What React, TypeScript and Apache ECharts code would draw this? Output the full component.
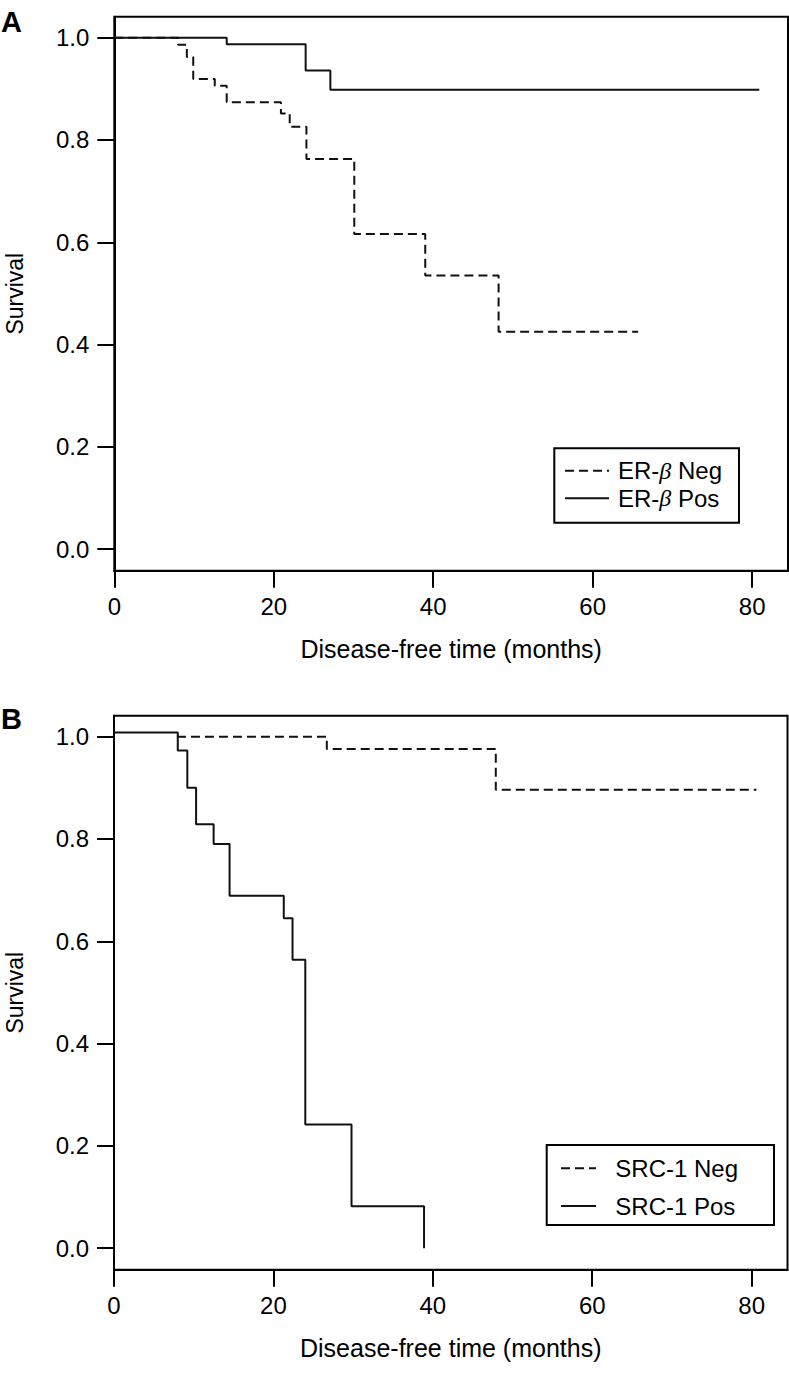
import React, { useEffect, useRef } from "react";
import * as echarts from "echarts";

// ---------- data ----------
const X_TICKS = [0, 20, 40, 60, 80];
const Y_TICKS = [0, 0.2, 0.4, 0.6, 0.8, 1.0];

const erbNegTime = [0, 8.0, 9.1, 9.9, 12.6, 14.1, 20.9, 22.0, 24.1, 30.1, 39.0, 48.2, 65.7];
const erbNegSurv = [1.0, 0.986, 0.962, 0.919, 0.906, 0.874, 0.852, 0.826, 0.763, 0.616, 0.535, 0.425, 0.425];

const erbPosTime = [0, 14.1, 24.0, 27.1, 80.9];
const erbPosSurv = [1.0, 0.987, 0.936, 0.898, 0.898];

const srcNegTime = [7.9, 26.7, 47.9, 80.6];
const srcNegSurv = [1.0, 0.976, 0.896, 0.896];

const srcPosTime = [0, 8.0, 9.2, 10.3, 12.5, 14.5, 21.3, 22.4, 24.0, 29.8, 38.9];
const srcPosSurv = [1.008, 0.973, 0.9, 0.829, 0.79, 0.689, 0.645, 0.564, 0.242, 0.082, 0.0];

const NAMES = ["ER-β Neg", "ER-β Pos", "SRC-1 Neg", "SRC-1 Pos"];

const FONT = '"Liberation Sans", Arial, Helvetica, sans-serif';

const pairs = (t: number[], s: number[]) => t.map((v, i) => [v, s[i]]);

function xAxisFor(gridIndex: number) {
  return {
    type: "value",
    gridIndex,
    min: 0,
    max: 84.5,
    name: "Disease-free time (months)",
    nameLocation: "middle",
    nameGap: 66,
    nameTextStyle: { fontFamily: FONT, fontSize: 25, color: "#000" },
    axisLine: { show: true, onZero: false, lineStyle: { color: "#000", width: 2 } },
    axisTick: { show: true, inside: false, length: 17, customValues: X_TICKS, lineStyle: { color: "#000", width: 2 } },
    axisLabel: { show: true, customValues: X_TICKS, margin: 24, fontFamily: FONT, fontSize: 24, color: "#000" },
    splitLine: { show: false },
  };
}

function yAxisFor(gridIndex: number) {
  return {
    type: "value",
    gridIndex,
    min: -0.042,
    max: 1.041,
    name: "Survival",
    nameLocation: "middle",
    nameGap: 88,
    nameTextStyle: { fontFamily: FONT, fontSize: 23, color: "#000" },
    axisLine: { show: true, onZero: false, lineStyle: { color: "#000", width: 2 } },
    axisTick: { show: true, inside: false, length: 17, customValues: Y_TICKS, lineStyle: { color: "#000", width: 2 } },
    axisLabel: {
      show: true,
      customValues: Y_TICKS,
      margin: 25,
      fontFamily: FONT,
      fontSize: 24,
      color: "#000",
      formatter: (v: number) => v.toFixed(1),
    },
    splitLine: { show: false },
  };
}

const legendRich = {
  t: { fontFamily: FONT, fontSize: 24, color: "#000" },
  b: { fontFamily: '"Liberation Serif", "DejaVu Serif", serif', fontStyle: "italic", fontSize: 24, color: "#000" },
};

const legendFormatter = (name: string) => {
  const i = name.indexOf("β");
  if (i < 0) return `{t|${name}}`;
  return `{t|${name.slice(0, i)}}{b|β}{t|${name.slice(i + 1)}}`;
};

const hiddenSymbol = { color: "rgba(0,0,0,0)", borderWidth: 0, opacity: 0 };

export default function App() {
  const ref = useRef<HTMLDivElement>(null);
  useEffect(() => {
    if (!ref.current) return;
    const chart = echarts.init(ref.current, undefined, { renderer: "svg" });
    const dashed = [9, 5];
    chart.setOption({
      animation: false,
      backgroundColor: "#fff",
      grid: [
        { left: 114.3, top: 16.7, width: 673.7, height: 554, outerBoundsMode: "none", containLabel: false, show: true, borderColor: "#000", borderWidth: 2, backgroundColor: "transparent" },
        { left: 114, top: 715.7, width: 673.5, height: 554, outerBoundsMode: "none", containLabel: false, show: true, borderColor: "#000", borderWidth: 2, backgroundColor: "transparent" },
      ],
      xAxis: [xAxisFor(0), xAxisFor(1)],
      yAxis: [yAxisFor(0), yAxisFor(1)],
      legend: [
        {
          data: [NAMES[0], NAMES[1]],
          orient: "vertical",
          left: 554.3,
          top: 448.3,
          padding: [8.6, 17, 10.6, 9.7],
          itemWidth: 44,
          itemHeight: 14,
          itemGap: 0,
          selectedMode: false,
          borderColor: "#000",
          borderWidth: 2,
          itemStyle: hiddenSymbol,
          formatter: legendFormatter,
          textStyle: { fontFamily: FONT, fontSize: 24, color: "#000", lineHeight: 27.6, padding: [0, 0, 0, 4], rich: legendRich },
        },
        {
          data: [NAMES[2], NAMES[3]],
          orient: "vertical",
          left: 546.7,
          top: 1145,
          padding: [4.5, 36, 0, 13.3],
          itemWidth: 35,
          itemHeight: 14,
          itemGap: 0,
          selectedMode: false,
          borderColor: "#000",
          borderWidth: 2,
          itemStyle: hiddenSymbol,
          formatter: legendFormatter,
          textStyle: { fontFamily: FONT, fontSize: 24, color: "#000", lineHeight: 37.7, padding: [0, 0, 0, 14.3], rich: legendRich },
        },
      ],
      series: [
        {
          name: NAMES[0], type: "line", xAxisIndex: 0, yAxisIndex: 0, step: "end", symbol: "none",
          data: pairs(erbNegTime, erbNegSurv),
          lineStyle: { color: "#111", width: 2, type: dashed },
          itemStyle: { color: "#111" },
        },
        {
          name: NAMES[1], type: "line", xAxisIndex: 0, yAxisIndex: 0, step: "end", symbol: "none",
          data: pairs(erbPosTime, erbPosSurv),
          lineStyle: { color: "#111", width: 2, type: "solid" },
          itemStyle: { color: "#111" },
        },
        {
          name: NAMES[2], type: "line", xAxisIndex: 1, yAxisIndex: 1, step: "end", symbol: "none",
          data: pairs(srcNegTime, srcNegSurv),
          lineStyle: { color: "#111", width: 2, type: dashed },
          itemStyle: { color: "#111" },
        },
        {
          name: NAMES[3], type: "line", xAxisIndex: 1, yAxisIndex: 1, step: "end", symbol: "none",
          data: pairs(srcPosTime, srcPosSurv),
          lineStyle: { color: "#111", width: 2, type: "solid" },
          itemStyle: { color: "#111" },
        },
      ],
      graphic: [
        { type: "text", left: 1, top: 7, style: { text: "A", fontFamily: FONT, fontWeight: "bold", fontSize: 29, fill: "#000" } },
        { type: "text", left: 1, top: 704, style: { text: "B", fontFamily: FONT, fontWeight: "bold", fontSize: 29, fill: "#000" } },
      ],
    });
    return () => chart.dispose();
  }, []);
  return (
    <div
      ref={ref}
      style={{ position: "absolute", left: 0, top: 0, width: 789, height: 1373, background: "#fff" }}
    />
  );
}
